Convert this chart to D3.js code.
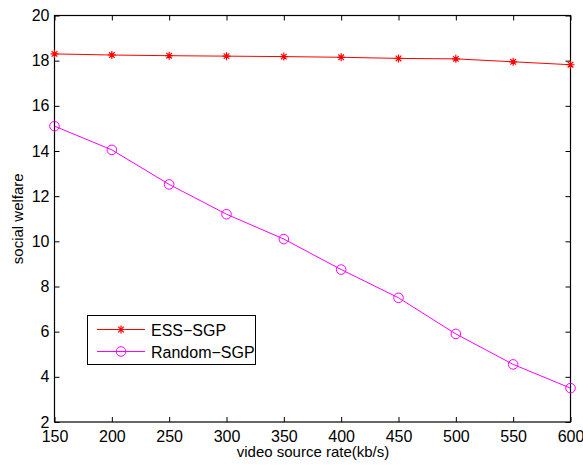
<!DOCTYPE html>
<html>
<head>
<meta charset="utf-8">
<script src="https://cdn.jsdelivr.net/npm/d3@7"></script>
<style>
  body { margin: 0; background: #fff; }
  text { font-family: "Liberation Sans", Arial, sans-serif; }
</style>
</head>
<body>
<svg width="583" height="467"></svg>
<script>
const rates = [150, 200, 250, 300, 350, 400, 450, 500, 550, 600]
const essSgp = [18.3, 18.25, 18.22, 18.2, 18.18, 18.15, 18.1, 18.08, 17.95, 17.82]
const randomSgp = [15.1, 14.05, 12.52, 11.2, 10.1, 8.75, 7.5, 5.9, 4.55, 3.5]
const xTicks = [150, 200, 250, 300, 350, 400, 450, 500, 550, 600]
const yTicks = [2, 4, 6, 8, 10, 12, 14, 16, 18, 20]

const svg = d3.select('svg')
const m = {left: 54.5, right: 570.5, top: 15.5, bottom: 422}

const x = d3.scaleLinear().domain([150, 600]).range([m.left, m.right])
const y = d3.scaleLinear().domain([2, 20]).range([m.bottom, m.top])

// box
svg.append('rect')
    .attr('x', m.left).attr('y', m.top)
    .attr('width', m.right - m.left).attr('height', m.bottom - m.top)
    .attr('fill', 'none').attr('stroke', '#000').attr('stroke-width', 1.2)

// axes, ticks inward like matlab
const tick = 5
const xAxis = svg.append('g').attr('transform', `translate(0,${m.bottom})`)
    .call(d3.axisBottom(x).tickValues(xTicks).tickSize(-tick))
const xTop = svg.append('g').attr('transform', `translate(0,${m.top})`)
    .call(d3.axisTop(x).tickValues(xTicks).tickSize(-tick).tickFormat(''))
const yAxis = svg.append('g').attr('transform', `translate(${m.left},0)`)
    .call(d3.axisLeft(y).tickValues(yTicks).tickSize(-tick))
const yRight = svg.append('g').attr('transform', `translate(${m.right},0)`)
    .call(d3.axisRight(y).tickValues(yTicks).tickSize(-tick).tickFormat(''))

;[xAxis, xTop, yAxis, yRight].forEach(g => {
    g.select('.domain').remove()
    g.selectAll('line').attr('stroke', '#000')
    g.selectAll('text').attr('font-size', 16).attr('fill', '#000')
        .style('font-family', '"Liberation Sans", Arial, sans-serif')
})
xAxis.selectAll('text').attr('dy', '0.72em').attr('y', 8)
yAxis.selectAll('text').attr('x', -5)

// axis labels
svg.append('text')
    .attr('x', (m.left + m.right) / 2 + 0.5).attr('y', 457)
    .attr('text-anchor', 'middle').attr('font-size', 15)
    .text('video source rate(kb/s)')
svg.append('text')
    .attr('transform', `translate(23,${(m.top + m.bottom) / 2}) rotate(-90)`)
    .attr('text-anchor', 'middle').attr('font-size', 15)
    .text('social welfare')

const line = d3.line().x((d, i) => x(rates[i])).y(d => y(d))

function star(g, cx, cy, color) {
    const r = 4
    const s = r * 0.7
    g.append('path')
        .attr('d', `M${cx - r},${cy}L${cx + r},${cy}M${cx},${cy - r}L${cx},${cy + r}` +
            `M${cx - s},${cy - s}L${cx + s},${cy + s}M${cx - s},${cy + s}L${cx + s},${cy - s}`)
        .attr('stroke', color).attr('stroke-width', 1.2)
}
function circle(g, cx, cy, color) {
    g.append('circle').attr('cx', cx).attr('cy', cy).attr('r', 4.8)
        .attr('fill', 'none').attr('stroke', color).attr('stroke-width', 1)
}

svg.append('path').datum(essSgp).attr('d', line)
    .attr('fill', 'none').attr('stroke', '#ff0000').attr('stroke-width', 1)
svg.append('path').datum(randomSgp).attr('d', line)
    .attr('fill', 'none').attr('stroke', '#ff00ff').attr('stroke-width', 1)

const marks = svg.append('g')
essSgp.forEach((v, i) => star(marks, x(rates[i]), y(v), '#ff0000'))
randomSgp.forEach((v, i) => circle(marks, x(rates[i]), y(v), '#ff00ff'))

// legend
const lg = svg.append('g')
lg.append('rect').attr('x', 87.5).attr('y', 315.5).attr('width', 168).attr('height', 49)
    .attr('fill', '#fff').attr('stroke', '#000').attr('stroke-width', 1)
const entries = [
    {name: 'ESS\u2212SGP', color: '#ff0000', mark: star, yy: 329.5},
    {name: 'Random\u2212SGP', color: '#ff00ff', mark: circle, yy: 351.5}
]
entries.forEach(e => {
    lg.append('line').attr('x1', 97).attr('x2', 145).attr('y1', e.yy).attr('y2', e.yy)
        .attr('stroke', e.color).attr('stroke-width', 1)
    e.mark(lg, 121, e.yy, e.color)
    lg.append('text').attr('x', 151).attr('y', e.yy + 6.5).attr('font-size', 16).text(e.name)
})
</script>
</body>
</html>
